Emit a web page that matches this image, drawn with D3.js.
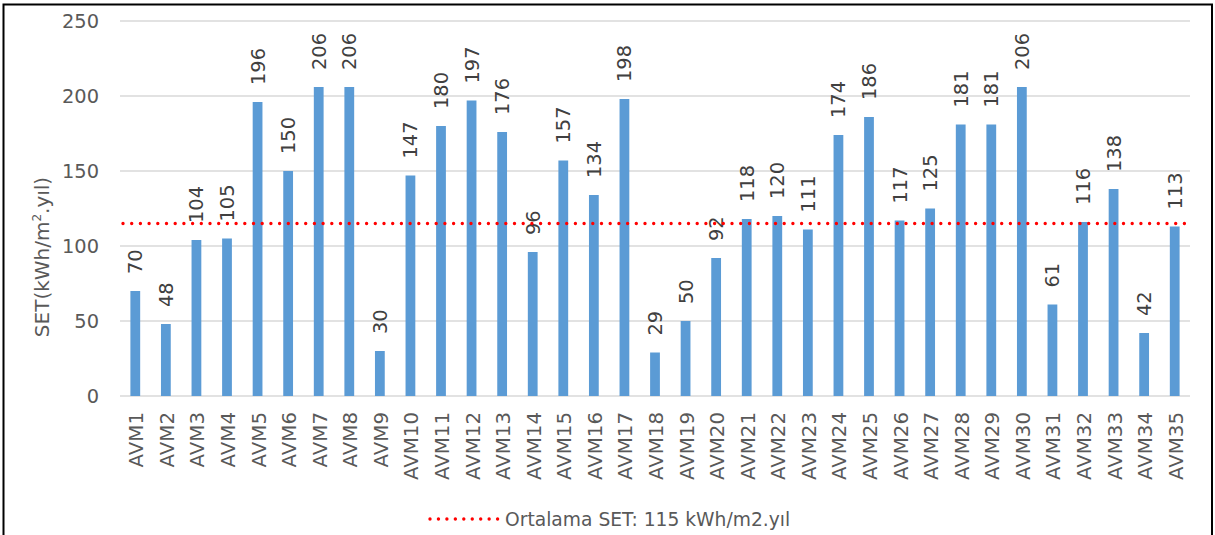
<!DOCTYPE html>
<html>
<head>
<meta charset="utf-8">
<script src="https://cdn.jsdelivr.net/npm/d3@7"></script>
<style>
body{margin:0;background:#fff;}
svg{display:block;font-family:"DejaVu Sans",sans-serif;}
</style>
</head>
<body>
<div id="chart"></div>
<script>
var categories=["AVM1","AVM2","AVM3","AVM4","AVM5","AVM6","AVM7","AVM8","AVM9","AVM10",
  "AVM11","AVM12","AVM13","AVM14","AVM15","AVM16","AVM17","AVM18","AVM19","AVM20",
  "AVM21","AVM22","AVM23","AVM24","AVM25","AVM26","AVM27","AVM28","AVM29","AVM30",
  "AVM31","AVM32","AVM33","AVM34","AVM35"];
var setValues=[70,48,104,105,196,150,206,206,30,147,180,197,176,96,157,134,198,29,50,92,
  118,120,111,174,186,117,125,181,181,206,61,116,138,42,113];
var yTicks=[0,50,100,150,200,250];
var averageSET=115;
var legendLabel="Ortalama SET: 115 kWh/m2.yıl";

var w=1215,h=535;
var pad={top:21,bottom:139,left:120,right:25};
var font="'DejaVu Sans',sans-serif";

var svg=d3.select("#chart").append("svg").attr("width",w).attr("height",h);

//chart border
svg.append("rect").attr("x",3.5).attr("y",4.5).attr("width",1208.5).attr("height",540)
   .attr("fill","none").attr("stroke","#000").attr("stroke-width",2);

var x=d3.scaleBand().domain(categories).range([pad.left,w-pad.right]).paddingInner(0.68).paddingOuter(0.34);
var y=d3.scaleLinear().domain([0,250]).range([h-pad.bottom,pad.top]);

//gridlines
svg.append("g").selectAll("line").data(yTicks).enter().append("line")
   .attr("x1",pad.left).attr("x2",w-pad.right)
   .attr("y1",function(d){return y(d);}).attr("y2",function(d){return y(d);})
   .attr("stroke","#d9d9d9").attr("stroke-width",1.5);

//y axis labels
var yAxis=d3.axisLeft(y).tickValues(yTicks).tickSize(0).tickPadding(21);
var ya=svg.append("g").attr("transform","translate("+pad.left+",0)").call(yAxis);
ya.select(".domain").remove();
ya.selectAll("text").attr("font-size",19.4).attr("fill","#595959").attr("font-family",font);

//axis title
var title=svg.append("text")
   .attr("transform","translate(49,257)rotate(-90)")
   .attr("text-anchor","middle").attr("font-size",20).attr("fill","#595959");
title.append("tspan").text("SET(kWh/m");
title.append("tspan").text("2").attr("font-size",12).attr("dy",-8);
title.append("tspan").text(".yıl)").attr("dy",8);

//bars
svg.append("g").selectAll("rect").data(setValues).enter().append("rect")
   .attr("x",function(d,i){return x(categories[i]);})
   .attr("y",function(d){return y(d);})
   .attr("width",x.bandwidth())
   .attr("height",function(d){return y(0)-y(d);})
   .attr("fill","#5b9bd5");

//value labels
svg.append("g").selectAll("text").data(setValues).enter().append("text")
   .attr("transform",function(d,i){
     var cx=x(categories[i])+x.bandwidth()/2;
     return "translate("+(cx+7)+","+(y(d)-17)+")rotate(-90)";})
   .attr("text-anchor","start").attr("font-size",19.4).attr("fill","#404040")
   .text(function(d){return d;});

//category labels
svg.append("g").selectAll("text").data(categories).enter().append("text")
   .attr("transform",function(d){
     var cx=x(d)+x.bandwidth()/2;
     return "translate("+(cx+8)+","+(y(0)+16)+")rotate(-90)";})
   .attr("text-anchor","end").attr("font-size",19.8).attr("fill","#595959")
   .text(function(d){return d;});

//average line
svg.append("line").attr("x1",pad.left+3).attr("x2",w-pad.right)
   .attr("y1",y(averageSET)).attr("y2",y(averageSET))
   .attr("stroke","#ff0000").attr("stroke-width",3.4)
   .attr("stroke-dasharray","0 8.7").attr("stroke-linecap","round");

//legend
var lg=svg.append("g").attr("transform","translate(430,519)");
lg.append("line").attr("x1",0).attr("x2",68).attr("y1",0).attr("y2",0)
   .attr("stroke","#ff0000").attr("stroke-width",3.4)
   .attr("stroke-dasharray","0 8.45").attr("stroke-linecap","round");
lg.append("text").attr("x",75).attr("y",7).attr("font-size",18.7).attr("fill","#595959").text(legendLabel);
</script>
</body>
</html>
